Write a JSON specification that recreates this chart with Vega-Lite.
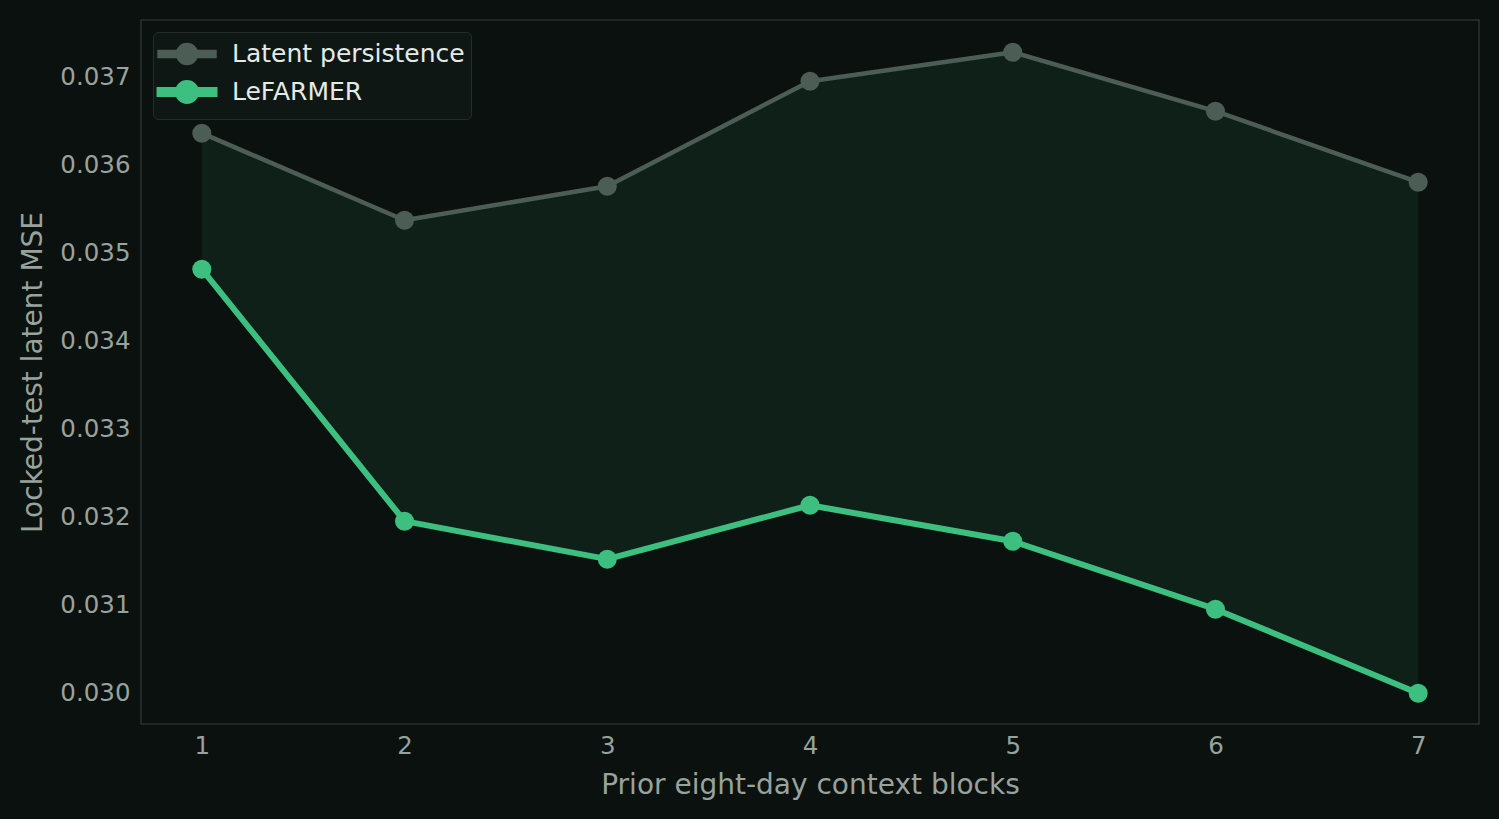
{
  "$schema": "https://vega.github.io/schema/vega-lite/v6.json",
  "autosize": "none",
  "width": 1338,
  "height": 704,
  "padding": {"left": 141, "top": 20, "right": 20, "bottom": 95},
  "background": "#0b110e",
  "config": {
    "font": "DejaVu Sans",
    "view": {"stroke": "#2b322e", "strokeWidth": 1.5},
    "axis": {
      "grid": false,
      "domain": false,
      "ticks": false,
      "labelColor": "#97a39c",
      "titleColor": "#97a39c",
      "labelFontSize": 24.5,
      "titleFontSize": 28,
      "titleFontWeight": "normal",
      "labelFont": "DejaVu Sans",
      "titleFont": "DejaVu Sans"
    },
    "legend": {
      "labelFont": "DejaVu Sans",
      "labelFontSize": 25,
      "labelColor": "#e4ebe6",
      "labelLimit": 500
    }
  },
  "datasets": {
    "blocks": [
      {"blocks": 1, "persist": 0.036364, "lefarmer": 0.034818},
      {"blocks": 2, "persist": 0.035375, "lefarmer": 0.031955},
      {"blocks": 3, "persist": 0.035761, "lefarmer": 0.031523},
      {"blocks": 4, "persist": 0.036955, "lefarmer": 0.032136},
      {"blocks": 5, "persist": 0.037284, "lefarmer": 0.031727},
      {"blocks": 6, "persist": 0.036614, "lefarmer": 0.030955},
      {"blocks": 7, "persist": 0.035807, "lefarmer": 0.030000}
    ],
    "series": [
      {"blocks": 1, "model": "Latent persistence", "mse": 0.036364},
      {"blocks": 2, "model": "Latent persistence", "mse": 0.035375},
      {"blocks": 3, "model": "Latent persistence", "mse": 0.035761},
      {"blocks": 4, "model": "Latent persistence", "mse": 0.036955},
      {"blocks": 5, "model": "Latent persistence", "mse": 0.037284},
      {"blocks": 6, "model": "Latent persistence", "mse": 0.036614},
      {"blocks": 7, "model": "Latent persistence", "mse": 0.035807},
      {"blocks": 1, "model": "LeFARMER", "mse": 0.034818},
      {"blocks": 2, "model": "LeFARMER", "mse": 0.031955},
      {"blocks": 3, "model": "LeFARMER", "mse": 0.031523},
      {"blocks": 4, "model": "LeFARMER", "mse": 0.032136},
      {"blocks": 5, "model": "LeFARMER", "mse": 0.031727},
      {"blocks": 6, "model": "LeFARMER", "mse": 0.030955},
      {"blocks": 7, "model": "LeFARMER", "mse": 0.030000}
    ]
  },
  "encoding": {
    "x": {
      "field": "blocks",
      "type": "quantitative",
      "title": "Prior eight-day context blocks",
      "scale": {"domain": [0.7, 7.3], "nice": false, "zero": false},
      "axis": {"values": [1, 2, 3, 4, 5, 6, 7], "format": "d", "labelPadding": 10, "titlePadding": 14}
    }
  },
  "layer": [
    {
      "data": {"name": "blocks"},
      "mark": {"type": "area", "color": "#0f2018", "opacity": 1},
      "encoding": {
        "y": {
          "field": "persist",
          "type": "quantitative",
          "title": "Locked-test latent MSE",
          "scale": {"domain": [0.02965, 0.03765], "nice": false, "zero": false},
          "axis": {"values": [0.030, 0.031, 0.032, 0.033, 0.034, 0.035, 0.036, 0.037], "format": ".3f", "labelPadding": 11, "titlePadding": 12}
        },
        "y2": {"field": "lefarmer"}
      }
    },
    {
      "data": {"name": "series"},
      "mark": {"type": "line", "strokeCap": "round", "strokeJoin": "round"},
      "encoding": {
        "y": {"field": "mse", "type": "quantitative"},
        "color": {
          "field": "model",
          "type": "nominal",
          "scale": {"domain": ["Latent persistence", "LeFARMER"], "range": ["#4c5d55", "#3dbf7f"]},
          "legend": {
            "title": null,
            "orient": "top-left",
            "offset": 12,
            "padding": 6,
            "fillColor": "#0f1714",
            "strokeColor": "#262d29",
            "cornerRadius": 5,
            "symbolType": "M-2,-0.15H2V0.15H-2Z M0.65,0A0.65,0.65 0 1,1 -0.65,0A0.65,0.65 0 1,1 0.65,0Z",
            "symbolSize": 756,
            "symbolOffset": 11,
            "symbolStrokeWidth": 0,
            "labelOffset": 28,
            "rowPadding": -1,
            "encode": {
              "symbols": {"update": {"fill": {"scale": "color", "field": "value"}, "stroke": {"value": "transparent"}}}
            }
          }
        },
        "strokeWidth": {
          "field": "model",
          "type": "nominal",
          "scale": {"domain": ["Latent persistence", "LeFARMER"], "range": [4.5, 6]},
          "legend": null
        }
      }
    },
    {
      "data": {"name": "series"},
      "mark": {"type": "point", "filled": true, "opacity": 1, "size": 361},
      "encoding": {
        "y": {"field": "mse", "type": "quantitative"},
        "color": {"field": "model", "type": "nominal"}
      }
    }
  ]
}
